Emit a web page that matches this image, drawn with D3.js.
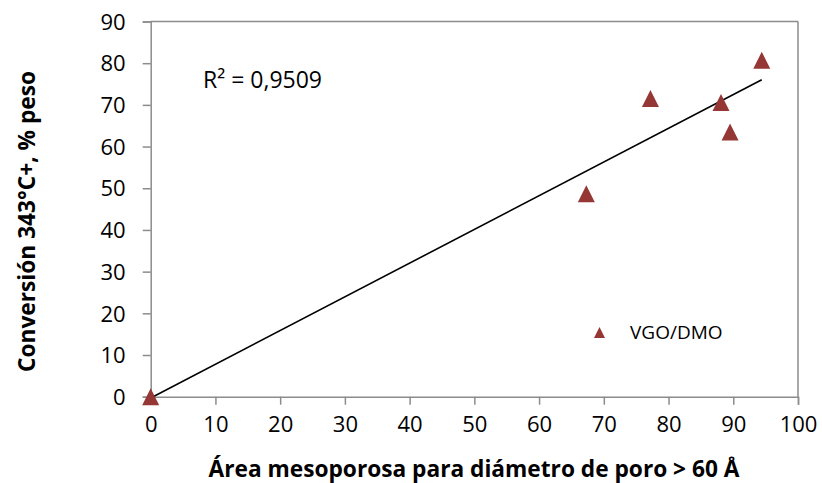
<!DOCTYPE html>
<html>
<head>
<meta charset="utf-8">
<script src="https://cdn.jsdelivr.net/npm/d3@7"></script>
<style>
  html, body { margin: 0; padding: 0; background: #fff; }
  svg { display: block; }
  text { font-family: "Open Sans", "Noto Sans", sans-serif; fill: #000; }
</style>
</head>
<body>
<svg id="chart" width="822" height="483"></svg>
<script>
// Mesoporous area (x) vs 343°C+ conversion (y), VGO/DMO series
const areaValues = [0, 67.3, 77.2, 88.1, 89.5, 94.4];
const conversionValues = [0, 48.7, 71.5, 70.6, 63.5, 80.7];
const seriesName = "VGO/DMO";
const xTicks = [0, 10, 20, 30, 40, 50, 60, 70, 80, 90, 100];
const yTicks = [0, 10, 20, 30, 40, 50, 60, 70, 80, 90];
const r2Label = "R² = 0,9509";
const xTitle = "Área mesoporosa para diámetro de poro > 60 Å";
const yTitle = "Conversión 343°C+, % peso";

const svg = d3.select("#chart");
const plot = { left: 150.7, right: 798, top: 21.5, bottom: 396.7 };
const markerColor = "#953735";
const axisColor = "#8c8c8c";

const x = d3.scaleLinear().domain([0, 100]).range([plot.left, plot.right]);
const y = d3.scaleLinear().domain([0, 90]).range([plot.bottom, plot.top]);

// Frame: top and right edges
svg.append("line")
  .attr("x1", plot.left).attr("x2", plot.right)
  .attr("y1", plot.top).attr("y2", plot.top)
  .attr("stroke", axisColor).attr("stroke-width", 1.5);
svg.append("line")
  .attr("x1", plot.right).attr("x2", plot.right)
  .attr("y1", plot.top).attr("y2", plot.bottom)
  .attr("stroke", axisColor).attr("stroke-width", 1.5);

// Axes
const xAxis = svg.append("g")
  .attr("transform", `translate(0,${plot.bottom})`)
  .call(d3.axisBottom(x).tickValues(xTicks).tickSize(8).tickPadding(12).tickFormat(d3.format("d")));
const yAxis = svg.append("g")
  .attr("transform", `translate(${plot.left},0)`)
  .call(d3.axisLeft(y).tickValues(yTicks).tickSize(8).tickPadding(17).tickFormat(d3.format("d")));

[xAxis, yAxis].forEach(g => {
  g.select(".domain").attr("stroke", axisColor).attr("stroke-width", 1.5);
  g.selectAll(".tick line").attr("stroke", axisColor).attr("stroke-width", 1.5);
  g.selectAll(".tick text")
    .attr("fill", "#000")
    .style("font-family", '"Open Sans", "Noto Sans", sans-serif')
    .style("font-size", "22px");
});
xAxis.selectAll(".tick text").attr("dy", "0.71em");
yAxis.selectAll(".tick text").attr("dy", "0.35em");

// Linear least-squares trendline
const n = areaValues.length;
const mx = d3.mean(areaValues), my = d3.mean(conversionValues);
let sxy = 0, sxx = 0;
for (let i = 0; i < n; i++) {
  sxy += (areaValues[i] - mx) * (conversionValues[i] - my);
  sxx += (areaValues[i] - mx) ** 2;
}
const slope = sxy / sxx, intercept = my - slope * mx;
const [x0, x1] = d3.extent(areaValues);
svg.append("line")
  .attr("x1", x(x0)).attr("y1", y(intercept + slope * x0))
  .attr("x2", x(x1)).attr("y2", y(intercept + slope * x1))
  .attr("stroke", "#000").attr("stroke-width", 1.6);

// Triangle markers
function triangle(w, h) {
  return `M0,${-h / 2}L${w / 2},${h / 2}L${-w / 2},${h / 2}Z`;
}
svg.append("g").selectAll("path")
  .data(areaValues.map((a, i) => [a, conversionValues[i]]))
  .join("path")
  .attr("transform", d => `translate(${x(d[0])},${y(d[1])})`)
  .attr("d", triangle(17, 17))
  .attr("fill", markerColor);

// R² annotation
svg.append("text")
  .attr("x", 203).attr("y", 88)
  .style("font-size", "23px")
  .text(r2Label);

// Legend
svg.append("path")
  .attr("transform", "translate(599.5,332.5)")
  .attr("d", triangle(11, 11))
  .attr("fill", markerColor);
svg.append("text")
  .attr("x", 630).attr("y", 332.5).attr("dy", "0.35em")
  .style("font-size", "19px")
  .text(seriesName);

// Axis titles
svg.append("text")
  .attr("x", 474).attr("y", 477)
  .attr("text-anchor", "middle")
  .style("font-size", "22.7px").style("font-weight", "bold")
  .text(xTitle);
svg.append("text")
  .attr("transform", "translate(35,221.5) rotate(-90)")
  .attr("text-anchor", "middle")
  .style("font-size", "22.7px").style("font-weight", "bold")
  .text(yTitle);
</script>
</body>
</html>
